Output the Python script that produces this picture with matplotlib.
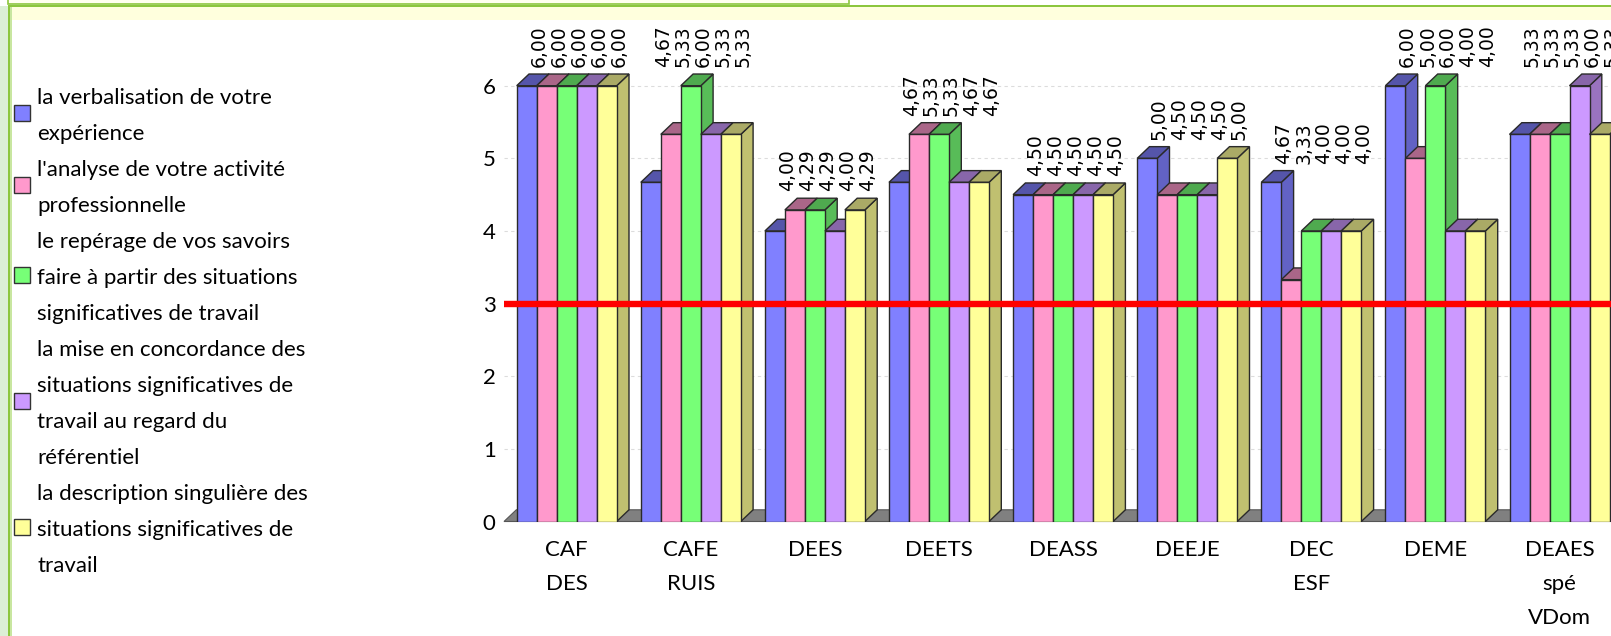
import matplotlib.pyplot as plt
from matplotlib.patches import Rectangle, Polygon

plt.rcParams['font.family'] = ['Lato', 'DejaVu Sans']

# data
categories = ['CAF\nDES', 'CAFE\nRUIS', 'DEES', 'DEETS', 'DEASS', 'DEEJE',
              'DEC\nESF', 'DEME', 'DEAES\nspé\nVDom']
verbalisation = [6.00, 4.67, 4.00, 4.67, 4.50, 5.00, 4.67, 6.00, 5.33]
analyse = [6.00, 5.33, 4.29, 5.33, 4.50, 4.50, 3.33, 5.00, 5.33]
reperage = [6.00, 6.00, 4.29, 5.33, 4.50, 4.50, 4.00, 6.00, 5.33]
concordance = [6.00, 5.33, 4.00, 4.67, 4.50, 4.50, 4.00, 4.00, 6.00]
description = [6.00, 5.33, 4.29, 4.67, 4.50, 5.00, 4.00, 4.00, 5.33]
series = [verbalisation, analyse, reperage, concordance, description]
threshold = 3
yticks = [0, 1, 2, 3, 4, 5, 6]

legend_lines = [
    ['la verbalisation de votre', 'expérience'],
    ["l'analyse de votre activité", 'professionnelle'],
    ['le repérage de vos savoirs', 'faire à partir des situations',
     'significatives de travail'],
    ['la mise en concordance des', 'situations significatives de',
     'travail au regard du', 'référentiel'],
    ['la description singulière des', 'situations significatives de', 'travail'],
]

front_cols = ['#8080FF', '#FF99CC', '#77FF77', '#CC99FF', '#FFFF99']
top_cols = ['#5555AA', '#AA6688', '#4FAA4F', '#8866AA', '#AAAA66']
side_cols = ['#6262C4', '#C47399', '#58BC58', '#9973BF', '#C0C070']
edge = '#2a2a2a'

W, H = 1611, 636
fig = plt.figure(figsize=(W / 100, H / 100), dpi=100)
fig.patch.set_facecolor('white')


def px_rect(x0, y0, x1, y1, **kw):
    r = Rectangle((x0 / W, 1 - y1 / H), (x1 - x0) / W, (y1 - y0) / H,
                  transform=fig.transFigure, **kw)
    fig.add_artist(r)


# page frame around the chart
px_rect(0, 6, 8, H, color='#DCEFD6', lw=0)
px_rect(8, -2, 849, 3.5, facecolor='#FFFFF0', edgecolor='#8CC63E', lw=1.2)
px_rect(10, 6.7, W, 19.5, color='#FFFFDD', lw=0)
px_rect(8, 5, W, 6.7, color='#8CC63E', lw=0)
px_rect(8, 5, 10, H, color='#8CC63E', lw=0)
px_rect(10, 6.7, 11.5, H, color='#C8E6A0', lw=0)

# plot area
left, right, base, top = 504, 1611, 521.5, 20
pitch, unit = 124.1, 72.63
ax = fig.add_axes([left / W, 1 - base / H, (right - left) / W, (base - top) / H])
x0 = -(566.7 - left) / pitch
x1 = (right - 566.7) / pitch
ax.set_xlim(x0, x1)
ax.set_ylim(0, (base - top) / unit)

bw = 20 / pitch
dx = 12.3 / pitch
dy = 11.7 / unit
gap = 7 / unit

for s in ax.spines.values():
    s.set_visible(False)

ax.set_yticks(yticks)
ax.set_yticklabels([str(t) for t in yticks], fontsize=16)
ax.set_xticks(range(len(categories)))
ax.set_xticklabels(categories, fontsize=16)
for t in ax.get_xticklabels():
    t.set_linespacing(1.9)
ax.tick_params(axis='y', length=0, pad=6)
ax.tick_params(axis='x', length=0, pad=13)
ax.grid(axis='y', color='#dcdcdc', linestyle=(0, (3, 3)), lw=0.8)
ax.set_axisbelow(True)

# floor
ax.add_patch(Polygon([(x0, 0), (x0 + dx, dy), (x1 + 1, dy), (x1 + 1, 0)],
                     closed=True, facecolor='#808080', edgecolor='#555555',
                     lw=0.8, zorder=1, clip_on=False))

n = len(series)
for k, vals in enumerate(series):
    z = 3 + 3 * k
    lefts = [i - n * bw / 2 + k * bw for i in range(len(vals))]
    ax.bar([l + bw / 2 for l in lefts], vals, width=bw, color=front_cols[k],
           edgecolor=edge, lw=1, zorder=z + 2)
    for l, v in zip(lefts, vals):
        ax.add_patch(Polygon([(l + bw, 0), (l + bw + dx, dy), (l + bw + dx, v + dy), (l + bw, v)],
                             closed=True, facecolor=side_cols[k], edgecolor=edge,
                             lw=1, zorder=z))
        ax.add_patch(Polygon([(l, v), (l + dx, v + dy), (l + bw + dx, v + dy), (l + bw, v)],
                             closed=True, facecolor=top_cols[k], edgecolor=edge,
                             lw=1, zorder=z + 1))

# value labels, stacked above the tallest bar of each group
for i in range(len(categories)):
    gmax = max(s[i] for s in series)
    for k, vals in enumerate(series):
        l = i - n * bw / 2 + k * bw
        ax.text(l + bw / 2 + dx, gmax + dy + gap, f'{vals[i]:.2f}'.replace('.', ','),
                rotation=90, ha='center', va='bottom', fontsize=13.5,
                family='DejaVu Sans', clip_on=False, zorder=60)

ax.axhline(threshold, color='#FF0000', lw=4.6, zorder=50)

# legend
line_y, pitch_y = 98.3, 35.95
row = 0
for k, lines in enumerate(legend_lines):
    first = row
    for txt in lines:
        fig.text(37 / W, 1 - (line_y + pitch_y * row) / H, txt,
                 ha='left', va='center', fontsize=16)
        row += 1
    mid = line_y + pitch_y * (first + row - 1) / 2 - 3
    px_rect(14, mid - 8, 30, mid + 8, facecolor=front_cols[k],
            edgecolor='#333333', lw=1)

fig.savefig('out.png', dpi=100)
